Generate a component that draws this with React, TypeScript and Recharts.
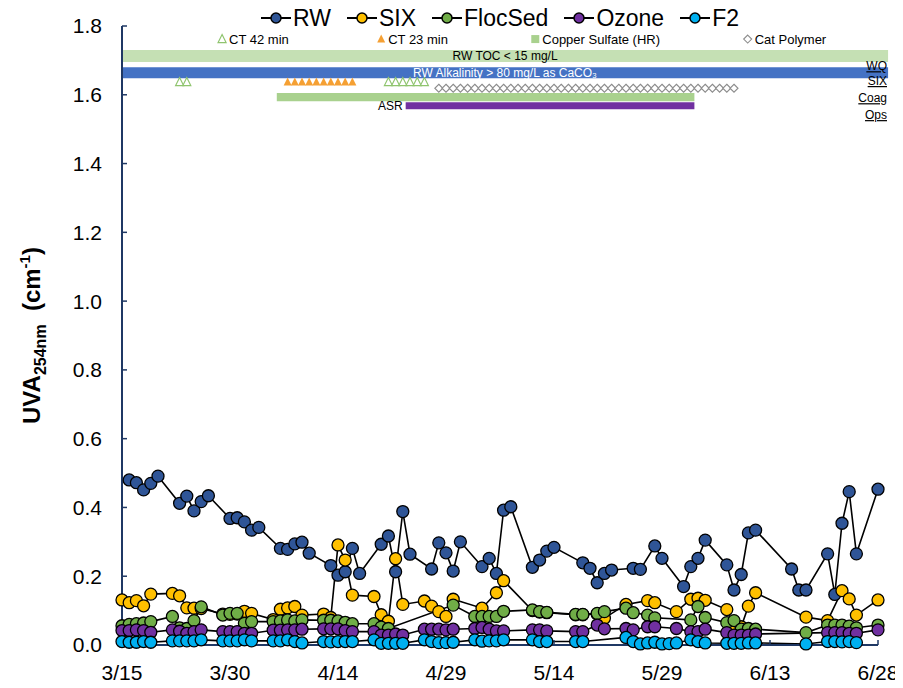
import React from "react";
import {
  ComposedChart,
  Line,
  Scatter,
  XAxis,
  YAxis,
  ReferenceArea,
  ReferenceDot,
} from "recharts";

// x values are days after 3/15
const tickDays = [0, 15, 30, 45, 60, 75, 90, 105];
const tickLabels = ["3/15", "3/30", "4/14", "4/29", "5/14", "5/29", "6/13", "6/28"];
const yTicks = [0, 0.2, 0.4, 0.6, 0.8, 1.0, 1.2, 1.4, 1.6, 1.8];

const seriesNames = ["RW", "SIX", "FlocSed", "Ozone", "F2"];
const seriesColors = ["#2f5597", "#ffc000", "#70ad47", "#7030a0", "#00b0f0"];

const rwDays = [1, 2, 3, 4, 5, 8, 9, 10, 11, 12, 15, 16, 17, 18, 19, 22, 23, 24, 25, 26, 29, 30, 31, 32, 33, 36, 37, 38, 39, 40, 43, 44, 45, 46, 47, 50, 51, 52, 53, 54, 57, 58, 59, 60, 64, 65, 66, 67, 68, 71, 72, 74, 75, 78, 79, 80, 81, 84, 85, 86, 87, 88, 93, 94, 95, 98, 99, 100, 101, 102, 105];
const rwUva = [0.48, 0.472, 0.451, 0.47, 0.491, 0.412, 0.433, 0.39, 0.417, 0.434, 0.368, 0.37, 0.358, 0.334, 0.342, 0.281, 0.278, 0.294, 0.299, 0.267, 0.231, 0.203, 0.213, 0.281, 0.208, 0.293, 0.317, 0.213, 0.388, 0.264, 0.221, 0.297, 0.268, 0.215, 0.3, 0.228, 0.252, 0.208, 0.392, 0.402, 0.226, 0.247, 0.273, 0.284, 0.239, 0.223, 0.181, 0.208, 0.218, 0.223, 0.22, 0.288, 0.252, 0.17, 0.228, 0.252, 0.305, 0.233, 0.16, 0.205, 0.326, 0.334, 0.221, 0.16, 0.16, 0.265, 0.147, 0.354, 0.446, 0.265, 0.453];

const sixDays = [0, 1, 2, 3, 4, 7, 8, 9, 10, 11, 14, 15, 16, 17, 18, 21, 22, 23, 24, 25, 28, 29, 30, 31, 32, 35, 36, 37, 38, 39, 42, 43, 44, 45, 46, 50, 52, 53, 57, 58, 59, 63, 64, 66, 67, 70, 73, 74, 77, 79, 80, 81, 84, 85, 86, 87, 88, 95, 98, 100, 101, 102, 105];
const sixUva = [0.131, 0.123, 0.129, 0.114, 0.148, 0.15, 0.143, 0.108, 0.107, 0.106, 0.09, 0.089, 0.09, 0.098, 0.092, 0.074, 0.104, 0.108, 0.112, 0.087, 0.09, 0.08, 0.291, 0.247, 0.145, 0.141, 0.088, 0.069, 0.251, 0.118, 0.128, 0.113, 0.097, 0.083, 0.133, 0.107, 0.152, 0.187, 0.1, 0.096, 0.094, 0.088, 0.088, 0.09, 0.078, 0.118, 0.129, 0.123, 0.097, 0.133, 0.136, 0.13, 0.103, 0.05, 0.053, 0.113, 0.152, 0.081, 0.071, 0.158, 0.134, 0.087, 0.131];

const flocDays = [0, 1, 2, 3, 4, 7, 8, 9, 10, 11, 14, 15, 16, 17, 18, 21, 22, 23, 24, 25, 28, 29, 30, 31, 32, 35, 36, 37, 46, 49, 50, 51, 52, 53, 57, 58, 59, 63, 64, 66, 67, 70, 71, 73, 74, 79, 80, 81, 84, 85, 86, 87, 88, 95, 98, 99, 100, 101, 102, 105];
const flocUva = [0.056, 0.06, 0.062, 0.064, 0.068, 0.083, 0.05, 0.048, 0.071, 0.111, 0.087, 0.092, 0.092, 0.063, 0.068, 0.068, 0.07, 0.073, 0.07, 0.073, 0.072, 0.072, 0.07, 0.066, 0.062, 0.062, 0.052, 0.048, 0.116, 0.083, 0.083, 0.083, 0.083, 0.098, 0.102, 0.097, 0.095, 0.089, 0.089, 0.092, 0.097, 0.107, 0.094, 0.087, 0.079, 0.073, 0.112, 0.08, 0.065, 0.071, 0.046, 0.048, 0.046, 0.036, 0.058, 0.058, 0.058, 0.055, 0.05, 0.058];

const ozoneDays = [0, 1, 2, 3, 4, 7, 8, 9, 10, 11, 14, 15, 16, 17, 18, 21, 22, 23, 24, 25, 28, 29, 30, 31, 32, 35, 36, 37, 38, 39, 42, 43, 44, 45, 46, 49, 50, 51, 52, 53, 57, 58, 59, 63, 64, 66, 67, 70, 71, 73, 74, 77, 79, 80, 81, 84, 85, 86, 87, 88, 98, 99, 100, 101, 102, 105];
const ozoneUva = [0.042, 0.042, 0.044, 0.042, 0.037, 0.044, 0.04, 0.034, 0.039, 0.044, 0.039, 0.039, 0.039, 0.034, 0.034, 0.043, 0.043, 0.044, 0.044, 0.046, 0.047, 0.047, 0.047, 0.042, 0.039, 0.039, 0.029, 0.029, 0.032, 0.029, 0.046, 0.046, 0.046, 0.044, 0.046, 0.048, 0.051, 0.046, 0.041, 0.041, 0.044, 0.044, 0.041, 0.039, 0.039, 0.058, 0.047, 0.048, 0.044, 0.053, 0.053, 0.048, 0.039, 0.039, 0.046, 0.036, 0.029, 0.029, 0.029, 0.032, 0.036, 0.036, 0.036, 0.034, 0.034, 0.044];

const f2Days = [0, 1, 2, 3, 4, 7, 8, 9, 10, 11, 14, 15, 16, 17, 18, 21, 22, 23, 24, 25, 28, 29, 30, 31, 32, 35, 36, 37, 38, 39, 42, 43, 44, 45, 46, 49, 50, 51, 52, 53, 57, 58, 59, 63, 64, 70, 71, 72, 73, 74, 75, 76, 77, 79, 80, 81, 84, 85, 86, 87, 88, 95, 98, 99, 100, 101, 102];
const f2Uva = [0.01, 0.008, 0.008, 0.01, 0.008, 0.012, 0.012, 0.012, 0.012, 0.015, 0.012, 0.012, 0.012, 0.015, 0.012, 0.012, 0.012, 0.015, 0.01, 0.006, 0.01, 0.009, 0.01, 0.01, 0.01, 0.015, 0.005, 0.005, 0.005, 0.005, 0.015, 0.01, 0.007, 0.007, 0.008, 0.015, 0.011, 0.012, 0.012, 0.015, 0.015, 0.01, 0.01, 0.01, 0.01, 0.022, 0.01, 0.003, 0.006, 0.008, 0.003, 0.004, 0.006, 0.015, 0.01, 0.006, 0.005, 0.005, 0.005, 0.006, 0.006, 0.003, 0.01, 0.01, 0.009, 0.01, 0.007];

// treatment / operations timeline
const ct42Days = [8, 9, 37, 38, 39, 40, 41, 42];
const ct23Days = [23, 24, 25, 26, 27, 28, 29, 30, 31, 32];
const polymerDays = [44, 45, 46, 47, 48, 49, 50, 51, 52, 53, 54, 55, 56, 57, 58, 59, 60, 61, 62, 63, 64, 65, 66, 67, 68, 69, 70, 71, 72, 73, 74, 75, 76, 77, 78, 79, 80, 81, 82, 83, 84, 85];
const copperSpan = [21.5, 79.5];
const asrSpan = [39.4, 79.5];
const fullSpan = [0, 106.4];

// vertical placement of the timeline rows (in UVA units)
const KEY_Y = 1.762;
const TOC_Y = [1.695, 1.73];
const ALK_Y = [1.648, 1.68];
const CT_Y = 1.637;
const POLY_Y = 1.619;
const COPPER_Y = [1.581, 1.605];
const ASR_Y = [1.558, 1.578];
const GROUP_X = 106.25;
const groupLabels = ["WQ", "SIX", "Coag", "Ops"];
const groupY = [1.683, 1.64, 1.59, 1.541];

const zip = (days: number[], vals: number[]) => days.map((d, i) => ({ d, v: vals[i] }));
const row = (days: number[], y: number) => days.map((d) => ({ d, v: y }));

const series = [
  zip(rwDays, rwUva),
  zip(sixDays, sixUva),
  zip(flocDays, flocUva),
  zip(ozoneDays, ozoneUva),
  zip(f2Days, f2Uva),
];

const FONT = "'Liberation Sans', Arial, sans-serif";
const NAVY = "#1f3864";

const openTri = (cx: number, cy: number) => (
  <polygon
    points={`${cx},${cy - 4.5} ${cx + 4},${cy + 3.5} ${cx - 4},${cy + 3.5}`}
    fill="#fff"
    stroke="#8fc46e"
    strokeWidth={1.2}
  />
);
const fillTri = (cx: number, cy: number) => (
  <polygon points={`${cx},${cy - 4.5} ${cx + 4},${cy + 3.5} ${cx - 4},${cy + 3.5}`} fill="#f5a033" />
);
const diamond = (cx: number, cy: number) => (
  <polygon
    points={`${cx},${cy - 4} ${cx + 4},${cy} ${cx},${cy + 4} ${cx - 4},${cy}`}
    fill="#fff"
    stroke="#8c8c8c"
    strokeWidth={1.1}
  />
);
const square = (cx: number, cy: number) => (
  <rect x={cx - 4} y={cy - 4} width={8} height={8} fill="#a9d18e" />
);

const keyItem = (marker: (cx: number, cy: number) => React.ReactElement, text: string) => (p: any) =>
  (
    <g>
      {marker(p.cx, p.cy)}
      <text x={p.cx + 7} y={p.cy + 4.5} fontSize={13} fontFamily={FONT} fill="#000">
        {text}
      </text>
    </g>
  );

const groupText = (text: string) => (p: any) =>
  (
    <text
      x={p.cx}
      y={p.cy + 4}
      textAnchor="end"
      fontSize={12}
      fontFamily={FONT}
      fill="#000"
      textDecoration="underline"
    >
      {text}
    </text>
  );

function UvaLabel({ viewBox }: any) {
  const cx = viewBox.x - 2;
  const cy = viewBox.y + viewBox.height / 2;
  return (
    <text
      x={cx}
      y={cy}
      transform={`rotate(-90, ${cx}, ${cy})`}
      textAnchor="middle"
      fontFamily={FONT}
      fontWeight="bold"
      fontSize={24}
      fill="#000"
    >
      UVA
      <tspan fontSize={16} dy={6}>
        254nm
      </tspan>
      <tspan dy={-6}>{"\u00a0\u00a0(cm"}</tspan>
      <tspan fontSize={15} dy={-10}>
        -1
      </tspan>
      <tspan dy={10}>)</tspan>
    </text>
  );
}

function SeriesKey() {
  return (
    <div
      style={{
        position: "absolute",
        left: 114,
        top: -3,
        width: 756,
        display: "flex",
        justifyContent: "center",
        gap: 16,
        fontFamily: FONT,
        fontSize: 23,
        lineHeight: "26px",
        color: "#000",
        zIndex: 1,
      }}
    >
      {seriesNames.map((name, i) => (
        <span key={name} style={{ display: "flex", alignItems: "center", gap: 2 }}>
          <svg width={30} height={14}>
            <line x1={0} y1={7} x2={30} y2={7} stroke="#000" strokeWidth={2} />
            <circle cx={15} cy={7} r={5} fill={seriesColors[i]} stroke="#000" strokeWidth={1.5} />
          </svg>
          {name}
        </span>
      ))}
    </div>
  );
}

export default function App() {
  return (
    <div style={{ position: "relative", width: 895, height: 680 }}>
      <SeriesKey />
      <ComposedChart width={895} height={680} margin={{ top: 18, right: 25, bottom: 8, left: 34 }}>
        <XAxis
          type="number"
          dataKey="d"
          domain={[0, 105]}
          ticks={tickDays}
          interval={0}
          tickFormatter={(d: number) => tickLabels[tickDays.indexOf(d)]}
          height={35}
          tickSize={-5}
          tickMargin={25}
          axisLine={{ stroke: NAVY, strokeWidth: 2 }}
          tickLine={{ stroke: NAVY, strokeWidth: 1.5 }}
          tick={{ fontSize: 21, fill: "#000", fontFamily: FONT }}
        />
        <YAxis
          type="number"
          domain={[0, 1.8]}
          ticks={yTicks}
          interval={0}
          width={80}
          tickFormatter={(v: number) => v.toFixed(1)}
          tickSize={-5}
          tickMargin={25}
          axisLine={{ stroke: NAVY, strokeWidth: 2 }}
          tickLine={{ stroke: NAVY, strokeWidth: 1.5 }}
          tick={{ fontSize: 21, fill: "#000", fontFamily: FONT }}
          label={<UvaLabel />}
        />

        <ReferenceArea
          x1={fullSpan[0]}
          x2={fullSpan[1]}
          y1={TOC_Y[0]}
          y2={TOC_Y[1]}
          fill="#c5e0b4"
          fillOpacity={1}
          ifOverflow="visible"
          label={{ value: "RW TOC < 15 mg/L", position: "center", fill: "#000", fontSize: 12, fontFamily: FONT }}
        />
        <ReferenceArea
          x1={fullSpan[0]}
          x2={fullSpan[1]}
          y1={ALK_Y[0]}
          y2={ALK_Y[1]}
          fill="#4472c4"
          fillOpacity={1}
          ifOverflow="visible"
          label={{
            value: "RW Alkalinity > 80 mg/L as CaCO\u2083",
            position: "center",
            fill: "#fff",
            fontSize: 12,
            fontFamily: FONT,
          }}
        />
        <ReferenceArea
          x1={copperSpan[0]}
          x2={copperSpan[1]}
          y1={COPPER_Y[0]}
          y2={COPPER_Y[1]}
          fill="#a9d18e"
          fillOpacity={1}
          ifOverflow="visible"
        />
        <ReferenceArea
          x1={asrSpan[0]}
          x2={asrSpan[1]}
          y1={ASR_Y[0]}
          y2={ASR_Y[1]}
          fill="#7030a0"
          fillOpacity={1}
          ifOverflow="visible"
          label={{ value: "ASR", position: "left", offset: 3, fill: "#000", fontSize: 12, fontFamily: FONT }}
        />

        <Scatter data={row(ct42Days, CT_Y)} dataKey="v" shape={(p: any) => openTri(p.cx, p.cy)} isAnimationActive={false} />
        <Scatter data={row(ct23Days, CT_Y)} dataKey="v" shape={(p: any) => fillTri(p.cx, p.cy)} isAnimationActive={false} />
        <Scatter data={row(polymerDays, POLY_Y)} dataKey="v" shape={(p: any) => diamond(p.cx, p.cy)} isAnimationActive={false} />

        <ReferenceDot x={13.9} y={KEY_Y} r={0} ifOverflow="visible" shape={keyItem(openTri, "CT 42 min")} />
        <ReferenceDot x={36} y={KEY_Y} r={0} ifOverflow="visible" shape={keyItem(fillTri, "CT 23 min")} />
        <ReferenceDot x={57.4} y={KEY_Y} r={0} ifOverflow="visible" shape={keyItem(square, "Copper Sulfate (HR)")} />
        <ReferenceDot x={86.9} y={KEY_Y} r={0} ifOverflow="visible" shape={keyItem(diamond, "Cat Polymer")} />

        {groupLabels.map((g, i) => (
          <ReferenceDot key={g} x={GROUP_X} y={groupY[i]} r={0} ifOverflow="visible" shape={groupText(g)} />
        ))}

        {series.map((data, i) => (
          <Line
            key={seriesNames[i]}
            data={data}
            dataKey="v"
            name={seriesNames[i]}
            stroke="#000"
            strokeWidth={1.6}
            dot={{ r: 6, fill: seriesColors[i], stroke: "#000", strokeWidth: 1.3 }}
            activeDot={false}
            isAnimationActive={false}
          />
        ))}
      </ComposedChart>
    </div>
  );
}
